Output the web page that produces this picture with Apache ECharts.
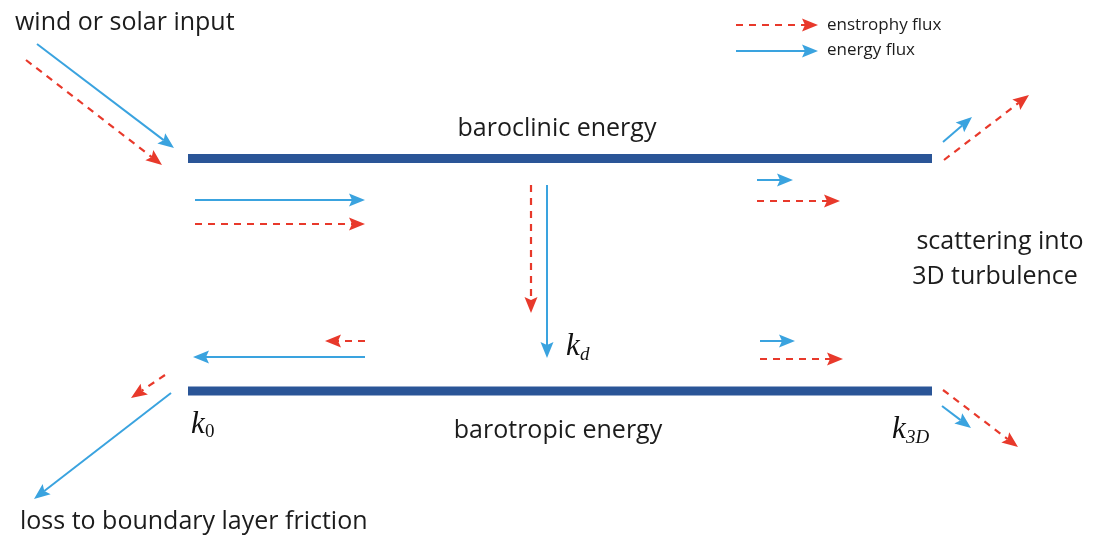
<!DOCTYPE html>
<html>
<head>
<meta charset="utf-8">
<script src="https://cdn.jsdelivr.net/npm/echarts@6/dist/echarts.min.js"></script>
<style>
  html, body { margin: 0; padding: 0; background: #fff; }
  #chart { width: 1098px; height: 535px; }
</style>
</head>
<body>
<div id="chart"></div>
<script>
// diagram units: x 0..1098, y 0..535 (y grows downward)
// arrows are [x1, y1, x2, y2], tip at (x2, y2)
var energyArrows = [
  [37, 44, 174, 148],
  [195, 200, 365, 200],
  [547, 185, 547, 358],
  [757, 180, 793, 180],
  [760, 341, 795, 341],
  [365, 357, 193, 357],
  [171, 393, 34, 499],
  [943, 142, 972, 117],
  [942, 406, 971, 428],
  [736, 51, 818, 51]
];
var enstrophyArrows = [
  [26, 60, 162, 165],
  [195, 224, 365, 224],
  [531, 185, 531, 313],
  [757, 201, 840, 201],
  [760, 359, 843, 359],
  [365, 341, 325, 341],
  [165, 375, 131, 398],
  [944, 160, 1029, 95],
  [943, 390, 1018, 447],
  [736, 25, 818, 25]
];
var levelBars = [
  [188, 158.5, 932, 158.5],
  [188, 391, 932, 391]
];
// [text, x, baseline y, align]
var mainLabels = [
  ['wind or solar input', 15, 28, 'left'],
  ['baroclinic energy', 557, 134, 'center'],
  ['barotropic energy', 558, 436, 'center'],
  ['scattering into', 1000, 247, 'center'],
  ['3D turbulence', 995, 282, 'center'],
  ['loss to boundary layer friction', 20, 527, 'left']
];
var legendLabels = [
  ['enstrophy flux', 827, 29, 'left'],
  ['energy flux', 827, 54, 'left']
];
// wavenumber marks: [x, baseline y, subscript]
var kMarks = [
  [191, 433, '0'],
  [566, 355, 'd'],
  [892, 438, '3D']
];

var BLUE = '#3aa3df';
var RED = '#e8392b';
var BAR = '#2a5597';

var chart = echarts.init(document.getElementById('chart'));

function arrowRender(color, dash, width) {
  return function (params, api) {
    var p1 = api.coord([api.value(0), api.value(1)]);
    var p2 = api.coord([api.value(2), api.value(3)]);
    var dx = p2[0] - p1[0], dy = p2[1] - p1[1];
    var len = Math.sqrt(dx * dx + dy * dy);
    var ux = dx / len, uy = dy / len;
    var hl = 16, hw = 6.5, notch = 3;
    var bx = p2[0] - ux * hl, by = p2[1] - uy * hl;
    return {
      type: 'group',
      children: [{
        type: 'line',
        shape: { x1: p1[0], y1: p1[1], x2: bx + ux * notch, y2: by + uy * notch },
        style: { stroke: color, lineWidth: width, lineDash: dash, fill: null }
      }, {
        type: 'polygon',
        shape: { points: [
          [p2[0], p2[1]],
          [bx - uy * hw, by + ux * hw],
          [bx + ux * notch, by + uy * notch],
          [bx + uy * hw, by - ux * hw]
        ] },
        style: { fill: color }
      }]
    };
  };
}

function textRender(rows, font, color) {
  return function (params, api) {
    var r = rows[params.dataIndex];
    var p = api.coord([api.value(0), api.value(1)]);
    return {
      type: 'text',
      x: p[0], y: p[1],
      style: { text: r[0], font: font, fill: color, align: r[3], verticalAlign: 'bottom' }
    };
  };
}

var mainFont = '25px "Open Sans"';
var legendFont = '17px "Open Sans"';

var option = {
  animation: false,
  grid: { left: 0, right: 0, top: 0, bottom: 0 },
  xAxis: { type: 'value', min: 0, max: 1098, show: false },
  yAxis: { type: 'value', min: 0, max: 535, inverse: true, show: false },
  series: [{
    type: 'custom',
    data: levelBars,
    encode: { x: [0, 2], y: [1, 3] },
    renderItem: function (params, api) {
      var p1 = api.coord([api.value(0), api.value(1)]);
      var p2 = api.coord([api.value(2), api.value(3)]);
      return { type: 'line', shape: { x1: p1[0], y1: p1[1], x2: p2[0], y2: p2[1] },
        style: { stroke: BAR, lineWidth: 9 } };
    }
  }, {
    type: 'custom',
    data: energyArrows,
    encode: { x: [0, 2], y: [1, 3] },
    renderItem: arrowRender(BLUE, null, 2)
  }, {
    type: 'custom',
    data: enstrophyArrows,
    encode: { x: [0, 2], y: [1, 3] },
    renderItem: arrowRender(RED, [7, 6], 2.2)
  }, {
    type: 'custom',
    data: mainLabels.map(function (r) { return [r[1], r[2] + 7]; }),
    renderItem: textRender(mainLabels, mainFont, '#1c1c1c')
  }, {
    type: 'custom',
    data: legendLabels.map(function (r) { return [r[1], r[2] + 5]; }),
    renderItem: textRender(legendLabels, legendFont, '#1c1c1c')
  }, {
    type: 'custom',
    data: kMarks.map(function (r) { return [r[0], r[1]]; }),
    renderItem: function (params, api) {
      var m = kMarks[params.dataIndex];
      var p = api.coord([api.value(0), api.value(1)]);
      var subItalic = m[2] !== '0';
      return {
        type: 'group',
        children: [{
          type: 'text', x: p[0], y: p[1] + 7,
          style: { text: 'k', font: 'italic 31px "Liberation Serif"', fill: '#111',
            align: 'left', verticalAlign: 'bottom' }
        }, {
          type: 'text', x: p[0] + 14, y: p[1] + 9,
          style: { text: m[2], font: (subItalic ? 'italic ' : '') + '19px "Liberation Serif"',
            fill: '#111', align: 'left', verticalAlign: 'bottom' }
        }]
      };
    }
  }]
};
chart.setOption(option);
</script>
</body>
</html>
